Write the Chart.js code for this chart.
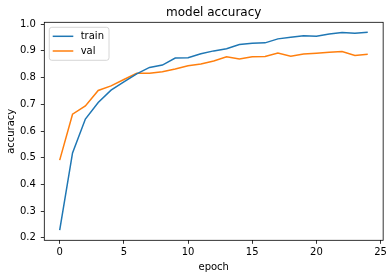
<!DOCTYPE html>
<html>
<head>
<meta charset="utf-8">
<script src="https://cdn.jsdelivr.net/npm/chart.js@4.4.0/dist/chart.umd.min.js"></script>
<style>
html,body{margin:0;padding:0;background:#fff;}
#wrap{width:390px;height:278px;position:relative;}
</style>
</head>
<body>
<div id="wrap"><canvas id="c" width="390" height="278"></canvas></div>
<script>
const epochs = [0,1,2,3,4,5,6,7,8,9,10,11,12,13,14,15,16,17,18,19,20,21,22,23,24];
const trainAcc = [0.229,0.518,0.645,0.707,0.753,0.784,0.814,0.838,0.847,0.873,0.874,0.889,0.900,0.908,0.924,0.929,0.930,0.945,0.951,0.957,0.955,0.963,0.969,0.966,0.970];
const valAcc = [0.491,0.663,0.694,0.752,0.769,0.793,0.816,0.816,0.822,0.832,0.844,0.851,0.862,0.878,0.870,0.878,0.879,0.892,0.880,0.888,0.891,0.895,0.898,0.883,0.887];
const xTicks = [0,5,10,15,20,25];
const yTicks = [0.2,0.3,0.4,0.5,0.6,0.7,0.8,0.9,1.0];
const seriesNames = ['train','val'];
const titleText = 'model accuracy';
const xLabel = 'epoch';
const yLabel = 'accuracy';

const FONT = 'DejaVu Sans';
const BLUE = '#1f77b4', ORANGE = '#ff7f0e';

const frameAndLegend = {
  id: 'frameAndLegend',
  afterDraw(chart) {
    const {ctx, chartArea: a} = chart;
    ctx.save();
    ctx.strokeStyle = '#000';
    ctx.lineWidth = 0.8;
    ctx.strokeRect(a.left, a.top, a.right - a.left, a.bottom - a.top);
    // legend
    const lx = a.left + 5, ly = a.top + 5, lw = 59.7, lh = 33;
    ctx.beginPath();
    if (ctx.roundRect) ctx.roundRect(lx, ly, lw, lh, 2.5); else ctx.rect(lx, ly, lw, lh);
    ctx.fillStyle = 'rgba(255,255,255,0.8)';
    ctx.fill();
    ctx.strokeStyle = '#cccccc';
    ctx.lineWidth = 0.8;
    ctx.stroke();
    chart.data.datasets.forEach((ds, i) => {
      const y = ly + 9 + i * 14.7;
      ctx.beginPath();
      ctx.strokeStyle = ds.borderColor;
      ctx.lineWidth = 1.5;
      ctx.moveTo(lx + 3.4, y);
      ctx.lineTo(lx + 24, y);
      ctx.stroke();
      ctx.fillStyle = '#000';
      ctx.font = '10px "' + FONT + '"';
      ctx.textBaseline = 'middle';
      ctx.textAlign = 'left';
      ctx.fillText(ds.label, lx + 31.4, y);
    });
    ctx.restore();
  }
};

new Chart(document.getElementById('c'), {
  type: 'line',
  data: {
    labels: epochs,
    datasets: [
      {label: seriesNames[0], data: epochs.map((e,i)=>({x:e,y:trainAcc[i]})), borderColor: BLUE, backgroundColor: BLUE, borderWidth: 1.5, pointRadius: 0, tension: 0, fill: false},
      {label: seriesNames[1], data: epochs.map((e,i)=>({x:e,y:valAcc[i]})), borderColor: ORANGE, backgroundColor: ORANGE, borderWidth: 1.5, pointRadius: 0, tension: 0, fill: false}
    ]
  },
  options: {
    responsive: false,
    animation: false,
    devicePixelRatio: 1,
    layout: {padding: 0},
    plugins: {legend: {display: false}, title: {display: false}, tooltip: {enabled: false}},
    scales: {
      x: {
        type: 'linear', position: 'bottom', min: -1.2, max: 25.2,
        afterBuildTicks: s => { s.ticks = xTicks.map(v => ({value: v})); },
        afterFit: s => { s.height = 37.7; },
        grid: {display: true, drawOnChartArea: false, drawTicks: true, tickLength: 3.5, tickWidth: 0.8, tickColor: '#000'},
        border: {display: false},
        ticks: {color: '#000', padding: 3, maxRotation: 0, autoSkip: false, font: {family: FONT, size: 10}, callback: v => String(v)},
        title: {display: true, text: xLabel, color: '#000', font: {family: FONT, size: 10}, padding: {top: 0, bottom: 5}}
      },
      xTop: {
        type: 'linear', position: 'top', min: -1.2, max: 25.2,
        afterFit: s => { s.height = 22.3; },
        grid: {display: false},
        border: {display: false},
        ticks: {display: false},
        title: {display: true, text: titleText, color: '#000', font: {family: FONT, size: 12}, padding: {top: 5.3, bottom: 0}}
      },
      y: {
        type: 'linear', position: 'left', min: 0.191, max: 1.007,
        afterBuildTicks: s => { s.ticks = yTicks.map(v => ({value: v})); },
        afterFit: s => { s.width = 44.3; },
        grid: {display: true, drawOnChartArea: false, drawTicks: true, tickLength: 3.5, tickWidth: 0.8, tickColor: '#000'},
        border: {display: false},
        ticks: {color: '#000', padding: 5, autoSkip: false, font: {family: FONT, size: 10}, callback: v => v.toFixed(1)},
        title: {display: true, text: yLabel, color: '#000', font: {family: FONT, size: 10}, padding: {top: 5, bottom: 0}}
      }
    }
  },
  plugins: [frameAndLegend]
});
</script>
</body>
</html>
